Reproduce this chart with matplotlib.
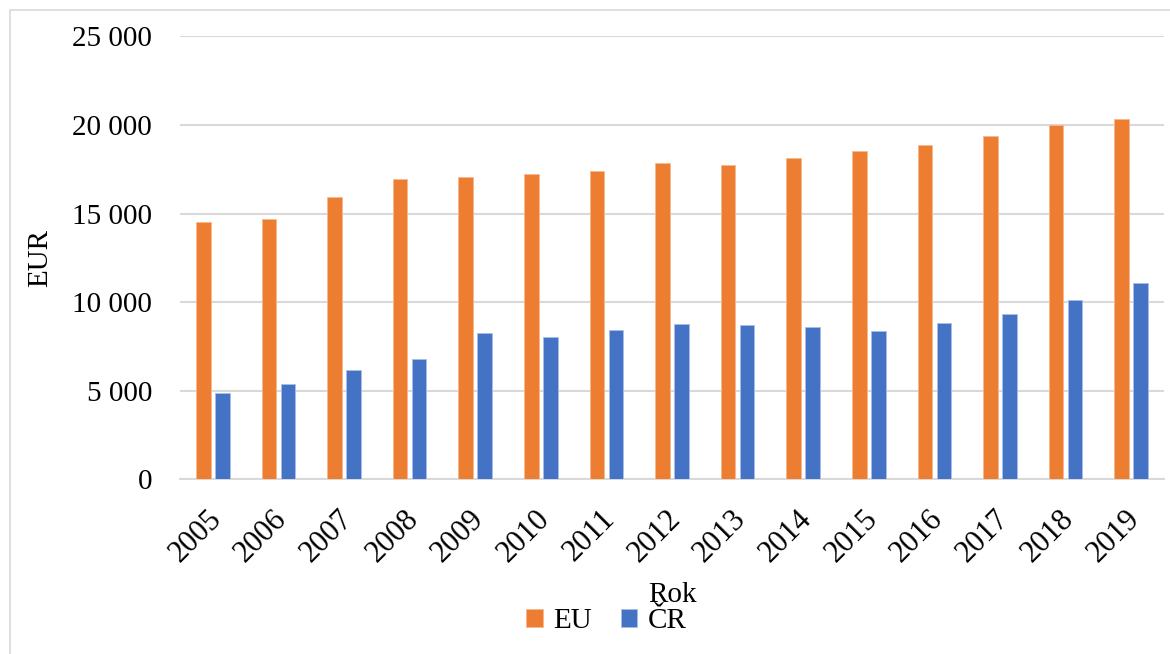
import numpy as np
import matplotlib.pyplot as plt
from matplotlib.patches import Rectangle
from matplotlib.ticker import FuncFormatter
from matplotlib.transforms import ScaledTranslation

# -------------------------
# Data
# -------------------------
years = ["2005", "2006", "2007", "2008", "2009", "2010", "2011", "2012",
         "2013", "2014", "2015", "2016", "2017", "2018", "2019"]
eu = [14500, 14690, 15910, 16950, 17060, 17210, 17400, 17830,
      17720, 18110, 18540, 18860, 19370, 19990, 20350]
cr = [4850, 5400, 6170, 6810, 8260, 8010, 8430, 8760,
      8690, 8610, 8370, 8820, 9310, 10120, 11080]

plt.rcParams["font.family"] = ["Liberation Serif", "DejaVu Serif"]

orange = "#ED7D31"
blue = "#4472C4"

fig = plt.figure(figsize=(11.7, 6.54), dpi=100)
ax = fig.add_axes([180 / 1170, (654 - 479.3) / 654, 984 / 1170, (479.3 - 36.3) / 654])

x = np.arange(len(years))
w = 0.223
off = 0.145
ax.bar(x - off, eu, w, color=orange, edgecolor="#f6b98f", linewidth=0.6, label="EU", zorder=3)
ax.bar(x + off, cr, w, color=blue, edgecolor="#a9bfe6", linewidth=0.6, label="ČR", zorder=3)

ax.set_xlim(-0.5, len(years) - 0.5)
ax.set_ylim(0, 25000)
ax.set_yticks(np.arange(0, 25001, 5000))
ax.yaxis.set_major_formatter(FuncFormatter(lambda v, p: f"{int(v):,}".replace(",", " ")))
ax.grid(axis="y", color="#d9d9d9", linewidth=1.5, zorder=0)

for s in ["top", "right", "left"]:
    ax.spines[s].set_visible(False)
ax.spines["bottom"].set_color("#d9d9d9")
ax.spines["bottom"].set_linewidth(1.5)
ax.tick_params(axis="both", length=0)
ax.tick_params(axis="y", labelsize=21, pad=20)

ax.set_xticks(x)
ax.set_xticklabels(years, rotation=45, ha="right", va="top",
                   rotation_mode="anchor", fontsize=22)
ax.tick_params(axis="x", pad=18)
shift = ScaledTranslation(-6 / 100, 0, fig.dpi_scale_trans)
for lbl in ax.get_xticklabels():
    lbl.set_transform(lbl.get_transform() + shift)

ax.set_ylabel("EUR", fontsize=21, labelpad=14)
ax.set_xlabel("Rok", fontsize=21)
ax.xaxis.set_label_coords(0.5, -0.232)

fig.legend(loc="center", bbox_to_anchor=(0.518, 1 - 621 / 654), ncol=2, frameon=False,
           fontsize=21, handlelength=0.58, handleheight=0.58, handletextpad=0.35,
           columnspacing=1.0, borderpad=0)

# light frame round the whole chart
fig.patches.append(Rectangle((10 / 1170, -10 / 654), 1200 / 1170, 654 / 654,
                             transform=fig.transFigure, fill=False,
                             edgecolor="#d9d9d9", linewidth=1.2))

fig.savefig("out.png", dpi=100)
